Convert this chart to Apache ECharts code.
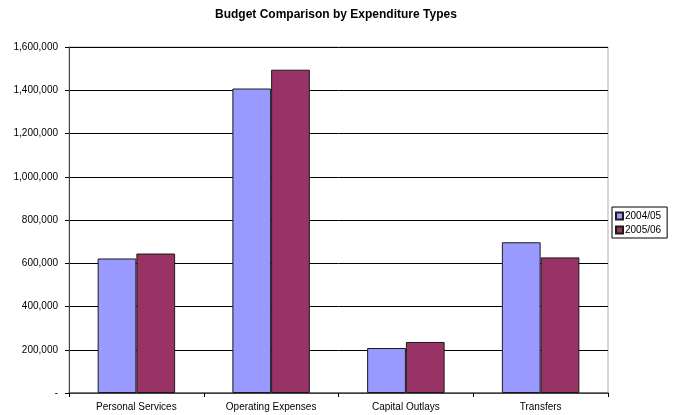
<!DOCTYPE html>
<html>
<head>
<meta charset="utf-8">
<script src="https://cdn.jsdelivr.net/npm/echarts@6/dist/echarts.min.js"></script>
<style>
  html, body { margin: 0; padding: 0; background: #fff; }
  #chart { width: 681px; height: 415px; }
</style>
</head>
<body>
<div id="chart"></div>
<script>
// Expenditure categories and yearly budget amounts
const categories = ['Personal Services', 'Operating Expenses', 'Capital Outlays', 'Transfers'];
const seriesNames = ['2004/05', '2005/06'];
const budget2004 = [622000, 1408000, 208000, 697000];
const budget2005 = [645000, 1495000, 236000, 627000];
const yTicks = [0, 200000, 400000, 600000, 800000, 1000000, 1200000, 1400000, 1600000];

const FONT = '"Liberation Sans", Arial, sans-serif';

function fmtAxis(v) {
  if (v === 0) return '-';
  return v.toString().replace(/\B(?=(\d{3})+(?!\d))/g, ',');
}

const chart = echarts.init(document.getElementById('chart'), null, { renderer: 'canvas' });

chart.setOption({
  animation: false,
  backgroundColor: '#ffffff',
  title: {
    text: 'Budget Comparison by Expenditure Types',
    left: 210,
    top: 4,
    textStyle: { fontFamily: FONT, fontSize: 12, fontWeight: 'bold', color: '#000' }
  },
  legend: {
    data: seriesNames,
    orient: 'vertical',
    left: 612,
    top: 207,
    itemWidth: 7,
    itemHeight: 7,
    itemGap: 4,
    padding: [4, 6, 3, 3],
    borderColor: '#000',
    borderWidth: 1,
    icon: 'rect',
    textStyle: { fontFamily: FONT, fontSize: 10, color: '#000', padding: [0, 0, 0, -3] }
  },
  grid: {
    left: 69,
    right: 73,
    top: 47,
    bottom: 22,
    show: true,
    borderColor: '#b0b0b0',
    borderWidth: 1
  },
  xAxis: {
    type: 'category',
    data: categories,
    axisLine: { lineStyle: { color: '#555', width: 1.5 } },
    axisTick: { show: true, length: 4, lineStyle: { color: '#000' } },
    axisLabel: { fontFamily: FONT, fontSize: 10, color: '#000', margin: 9 }
  },
  yAxis: {
    type: 'value',
    min: yTicks[0],
    max: yTicks[yTicks.length - 1],
    interval: yTicks[1] - yTicks[0],
    axisLine: { show: true, lineStyle: { color: '#444', width: 1 } },
    axisTick: { show: true, length: 4, lineStyle: { color: '#000' } },
    axisLabel: { fontFamily: FONT, fontSize: 10, color: '#000', margin: 11, formatter: fmtAxis },
    splitLine: { show: true, lineStyle: { color: '#000', width: 1 } }
  },
  series: [
    {
      name: seriesNames[0],
      type: 'bar',
      data: budget2004,
      barGap: '0%',
      barCategoryGap: '42.5%',
      itemStyle: { color: '#9999FF', borderColor: '#1a1a1a', borderWidth: 1 }
    },
    {
      name: seriesNames[1],
      type: 'bar',
      data: budget2005,
      itemStyle: { color: '#993366', borderColor: '#1a1a1a', borderWidth: 1 }
    }
  ]
});
</script>
</body>
</html>
